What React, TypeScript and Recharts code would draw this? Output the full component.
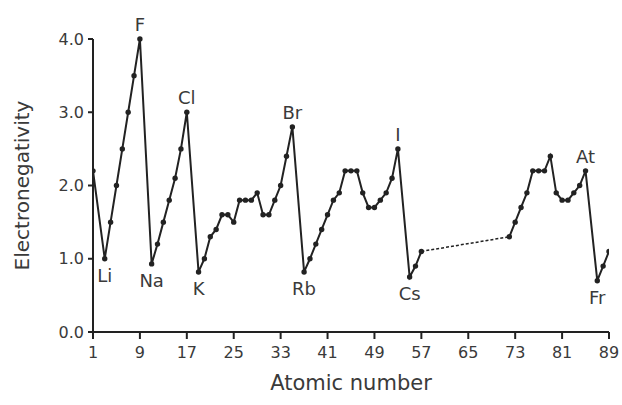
import { LineChart, Line, XAxis, YAxis, Label } from "recharts";

// elements that have a value (noble gases and lanthanides are left out)
const symbols = [
  "H", "Li", "Be", "B", "C", "N", "O", "F",
  "Na", "Mg", "Al", "Si", "P", "S", "Cl",
  "K", "Ca", "Sc", "Ti", "V", "Cr", "Mn", "Fe", "Co", "Ni", "Cu", "Zn", "Ga", "Ge", "As", "Se", "Br",
  "Rb", "Sr", "Y", "Zr", "Nb", "Mo", "Tc", "Ru", "Rh", "Pd", "Ag", "Cd", "In", "Sn", "Sb", "Te", "I",
  "Cs", "Ba", "La",
  "Hf", "Ta", "W", "Re", "Os", "Ir", "Pt", "Au", "Hg", "Tl", "Pb", "Bi", "Po", "At",
  "Fr", "Ra", "Ac",
];
const atomicNumbers = [
  1, 3, 4, 5, 6, 7, 8, 9,
  11, 12, 13, 14, 15, 16, 17,
  19, 20, 21, 22, 23, 24, 25, 26, 27, 28, 29, 30, 31, 32, 33, 34, 35,
  37, 38, 39, 40, 41, 42, 43, 44, 45, 46, 47, 48, 49, 50, 51, 52, 53,
  55, 56, 57,
  72, 73, 74, 75, 76, 77, 78, 79, 80, 81, 82, 83, 84, 85,
  87, 88, 89,
];
const electronegativity = [
  2.2, 1.0, 1.5, 2.0, 2.5, 3.0, 3.5, 4.0,
  0.93, 1.2, 1.5, 1.8, 2.1, 2.5, 3.0,
  0.82, 1.0, 1.3, 1.4, 1.6, 1.6, 1.5, 1.8, 1.8, 1.8, 1.9, 1.6, 1.6, 1.8, 2.0, 2.4, 2.8,
  0.82, 1.0, 1.2, 1.4, 1.6, 1.8, 1.9, 2.2, 2.2, 2.2, 1.9, 1.7, 1.7, 1.8, 1.9, 2.1, 2.5,
  0.75, 0.9, 1.1,
  1.3, 1.5, 1.7, 1.9, 2.2, 2.2, 2.2, 2.4, 1.9, 1.8, 1.8, 1.9, 2.0, 2.2,
  0.7, 0.9, 1.1,
];
const labelled = ["F", "Cl", "Br", "I", "At", "Li", "Na", "K", "Rb", "Cs", "Fr"];
const xTicks = [1, 9, 17, 25, 33, 41, 49, 57, 65, 73, 81, 89];
const yTicks = [0, 1, 2, 3, 4];

type Pt = { z: number; en: number; symbol: string };

const points: Pt[] = atomicNumbers.map((z, i) => ({
  z,
  en: electronegativity[i],
  symbol: symbols[i],
}));
const before = points.filter((p) => p.z <= 57);
const after = points.filter((p) => p.z >= 72);
const gap = [before[before.length - 1], after[0]];

const font = "'DejaVu Sans', Verdana, sans-serif";
const ink = "#222";
const textColor = "#3a3a3a";

const symbolLabel = (seg: Pt[]) => (props: any) => {
  const p = seg[props.index];
  if (!p || !labelled.includes(p.symbol)) return <g key={props.index} />;
  const up = p.en >= 2;
  return (
    <text
      key={props.index}
      x={props.x}
      y={up ? props.y - 8 : props.y + 23}
      textAnchor="middle"
      fontSize={18}
      fontFamily={font}
      fill={textColor}
    >
      {p.symbol}
    </text>
  );
};

const dot = { r: 2.7, fill: ink, stroke: ink, strokeWidth: 0 };

export default function App() {
  return (
    <div style={{ position: "absolute", left: 0, top: 0, background: "#fff" }}>
      <LineChart
        width={622}
        height={405}
        margin={{ top: 39, right: 13, bottom: 0, left: 0 }}
      >
        <XAxis
          type="number"
          dataKey="z"
          domain={[1, 89]}
          ticks={xTicks}
          allowDataOverflow
          height={73}
          axisLine={{ stroke: ink, strokeWidth: 2 }}
          tickLine={{ stroke: ink, strokeWidth: 2 }}
          tickSize={7}
          tickMargin={8}
          tick={{ fontSize: 16, fontFamily: font, fill: textColor }}
        >
          <Label
            content={({ viewBox }: any) => (
              <text
                x={viewBox.x + viewBox.width / 2}
                y={viewBox.y + 58}
                textAnchor="middle"
                fontSize={21}
                fontFamily={font}
                fill={textColor}
              >
                Atomic number
              </text>
            )}
          />
        </XAxis>
        <YAxis
          type="number"
          dataKey="en"
          domain={[0, 4]}
          ticks={yTicks}
          width={93}
          tickFormatter={(v: number) => v.toFixed(1)}
          axisLine={{ stroke: ink, strokeWidth: 2 }}
          tickLine={{ stroke: ink, strokeWidth: 2 }}
          tickSize={5}
          tickMargin={4}
          tick={{ fontSize: 16, fontFamily: font, fill: textColor }}
        >
          <Label
            content={({ viewBox }: any) => {
              const cx = viewBox.x + 22;
              const cy = viewBox.y + viewBox.height / 2;
              return (
                <text
                  x={cx}
                  y={cy}
                  transform={`rotate(-90 ${cx} ${cy})`}
                  textAnchor="middle"
                  dominantBaseline="central"
                  fontSize={20}
                  fontFamily={font}
                  fill={textColor}
                >
                  Electronegativity
                </text>
              );
            }}
          />
        </YAxis>
        <Line
          data={gap}
          dataKey="en"
          stroke={ink}
          strokeWidth={1.5}
          strokeDasharray="3 2"
          dot={false}
          isAnimationActive={false}
        />
        <Line
          data={before}
          dataKey="en"
          stroke={ink}
          strokeWidth={2}
          dot={dot}
          label={symbolLabel(before)}
          isAnimationActive={false}
        />
        <Line
          data={after}
          dataKey="en"
          stroke={ink}
          strokeWidth={2}
          dot={dot}
          label={symbolLabel(after)}
          isAnimationActive={false}
        />
      </LineChart>
    </div>
  );
}
